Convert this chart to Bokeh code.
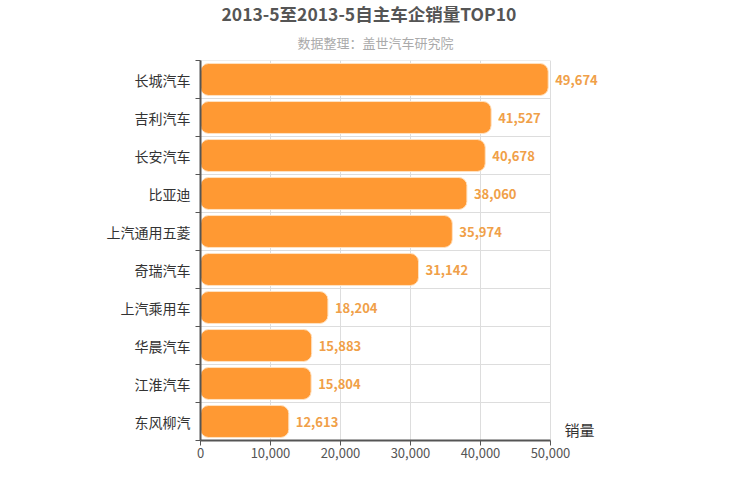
from bokeh.plotting import figure
from bokeh.models import (ColumnDataSource, Range1d, FixedTicker, NumeralTickFormatter,
                          Title, Label, LabelSet)
from bokeh.core.properties import value
from bokeh.embed import file_html
from bokeh.resources import INLINE

categories = ["长城汽车", "吉利汽车", "长安汽车", "比亚迪", "上汽通用五菱",
              "奇瑞汽车", "上汽乘用车", "华晨汽车", "江淮汽车", "东风柳汽"]
sales = [49674, 41527, 40678, 38060, 35974, 31142, 18204, 15883, 15804, 12613]
x_ticks = [0, 10000, 20000, 30000, 40000, 50000]

FONT = "Noto Sans CJK SC"
BAR = "#FF9933"
LBL = "#F0A048"
GRID = "#DDDDDD"

n = len(categories)
pos = [i + 0.5 for i in range(n)]
bounds = [float(i) for i in range(n + 1)]

src = ColumnDataSource(dict(
    y=pos, v=sales, cat=categories,
    txt=[f"{v:,}" for v in sales],
))
gsrc = ColumnDataSource(dict(
    x0=[x_ticks[0]] * len(bounds), x1=[x_ticks[-1]] * len(bounds), y=bounds,
))

# frame: 350 px for 0..50000, extended to the right so outside labels stay visible
p = figure(width=750, height=500, output_backend="svg", toolbar_location=None,
           title=None, x_range=Range1d(0, 62430), y_range=Range1d(n, 0),
           min_border_left=200, min_border_right=113, min_border_top=60,
           min_border_bottom=60, outline_line_color=None)

p.segment(x0="x0", x1="x1", y0="y", y1="y", source=gsrc, line_color=GRID,
          line_width=1, level="underlay")

p.hbar(y="y", right="v", left=0, height=0.84, source=src, fill_color=BAR,
       line_color="#FFE2C2", line_width=1, border_radius=8)

labels = LabelSet(x="v", y="y", text="txt", source=src, x_offset=7,
                  text_baseline="middle", text_font=value(FONT),
                  text_font_size="13px", text_font_style="bold", text_color=LBL)
p.add_layout(labels)

# y axis
p.yaxis.ticker = FixedTicker(ticks=pos, minor_ticks=bounds)
p.yaxis.major_label_overrides = {pp: c for pp, c in zip(pos, categories)}
p.yaxis.major_tick_line_color = None
p.yaxis.major_tick_out = 0
p.yaxis.major_tick_in = 0
p.yaxis.minor_tick_line_color = "#555555"
p.yaxis.minor_tick_out = 5
p.yaxis.minor_tick_in = 0
p.yaxis.axis_line_color = "#555555"
p.yaxis.axis_line_width = 2
p.yaxis.major_label_text_font = FONT
p.yaxis.major_label_text_font_size = "14px"
p.yaxis.major_label_text_color = "#333333"
p.yaxis.major_label_standoff = 5

# x axis
p.xaxis.ticker = FixedTicker(ticks=x_ticks, minor_ticks=[])
p.xaxis.bounds = (x_ticks[0], x_ticks[-1])
p.xaxis.formatter = NumeralTickFormatter(format="0,0")
p.xaxis.major_tick_line_color = "#555555"
p.xaxis.major_tick_out = 5
p.xaxis.major_tick_in = 0
p.xaxis.minor_tick_line_color = None
p.xaxis.axis_line_color = "#555555"
p.xaxis.axis_line_width = 2
p.xaxis.major_label_text_font = FONT
p.xaxis.major_label_text_font_size = "13px"
p.xaxis.major_label_text_color = "#555555"
p.xaxis.major_label_standoff = 2

# grids
p.xgrid.ticker = FixedTicker(ticks=x_ticks)
p.xgrid.grid_line_color = GRID
p.ygrid.grid_line_color = None

# axis name (kept just above the frame's bottom edge, which clips annotations)
p.add_layout(Label(x=x_ticks[-1], y=n, text="销量", x_offset=14, y_offset=1,
                   text_baseline="bottom", text_font=FONT, text_font_size="15px",
                   text_color="#333333"))

# titles (frame is 200px from the left edge; centre them over 200..550)
p.add_layout(Title(text="数据整理：盖世汽车研究院", align="left", offset=97,
                   vertical_align="middle", text_font=FONT,
                   text_font_size="13px", text_font_style="normal",
                   text_color="#AAAAAA", standoff=16), "above")
p.add_layout(Title(text="2013-5至2013-5自主车企销量TOP10", align="left", offset=21,
                   vertical_align="middle",
                   text_font=FONT, text_font_size="17.5px", text_font_style="bold",
                   text_color="#555555", standoff=-6), "above")

open("out.html", "w").write(file_html(p, INLINE))
